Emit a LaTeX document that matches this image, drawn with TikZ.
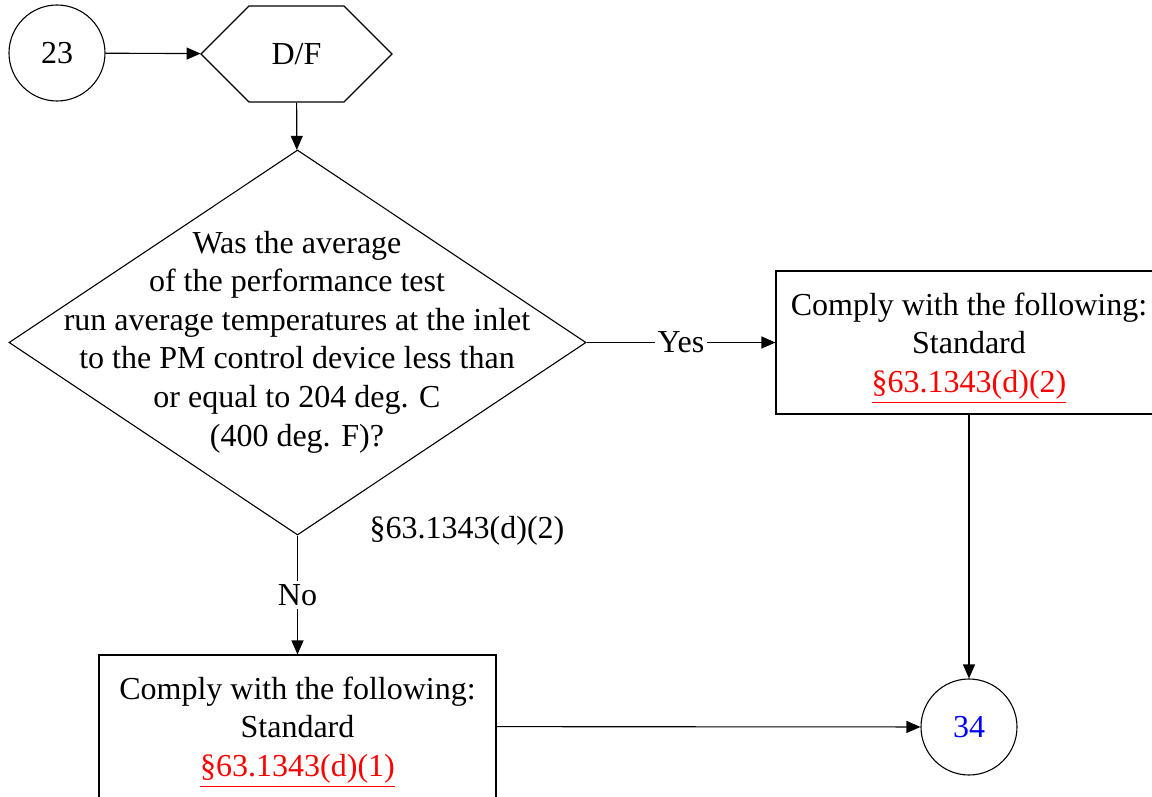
\documentclass[tikz,border=0pt]{standalone}
\usepackage{fontspec}
\setmainfont{Liberation Serif}
\usepackage{tikz}
\usetikzlibrary{shapes.geometric,shapes.symbols,arrows.meta}

\newcommand{\secref}[1]{\raisebox{0pt}[\height][0pt]{\textcolor{red}{\underline{#1}}}}

\begin{document}
\begin{tikzpicture}
	[x=0.5pt,y=-0.5pt,line width=0.55pt,>={Triangle[length=7pt,width=6pt]},
	 every node/.style={font=\fontsize{16}{19.3}\selectfont,inner sep=0pt},
	 conn/.style={circle,draw,minimum size=48pt},
	 box/.style={draw,minimum width=198.5pt,minimum height=71.5pt,align=center},
	 lbl/.style={fill=white,inner sep=1.5pt}]
	\clip (0,0) rectangle (1152,797);
	\node[conn] (c23) at (57,53) {23};
	\node[signal,signal to=west and east,draw,minimum width=95.5pt,minimum height=48pt] (df) at (296.5,54) {D/F};
	\node[diamond,draw,minimum width=288.5pt,minimum height=192.5pt] (q) at (297.5,342.5) {};
	\node[align=center] (qtext) at (297,342) {Was the average\\of the performance test\\run average temperatures at the inlet\\to the PM control device less than\\or equal to 204 deg. C\\(400 deg. F)?};
	\node at (467,531) (ref) {\S63.1343(d)(2)};
	
	\node[box,minimum width=193pt] (yes) at (969,342.5) {Comply with the following:\\Standard\\\secref{\S63.1343(d)(2)}};
	\node[box] (no) at (297.5,726.5) {Comply with the following:\\Standard\\\secref{\S63.1343(d)(1)}};
	\node[conn] (c34) at (969,727) {\textcolor{blue}{34}};
	
	\foreach \from/\to in {c23/df, df/q, yes/c34, no/c34}
	\draw[->] (\from) -- (\to);
	\draw[->] (q.east) -- node[lbl,midway] {Yes} (yes.west);
	\draw[->] (q.south) -- node[lbl,midway] {No} (no.north);
\end{tikzpicture}
\end{document}
